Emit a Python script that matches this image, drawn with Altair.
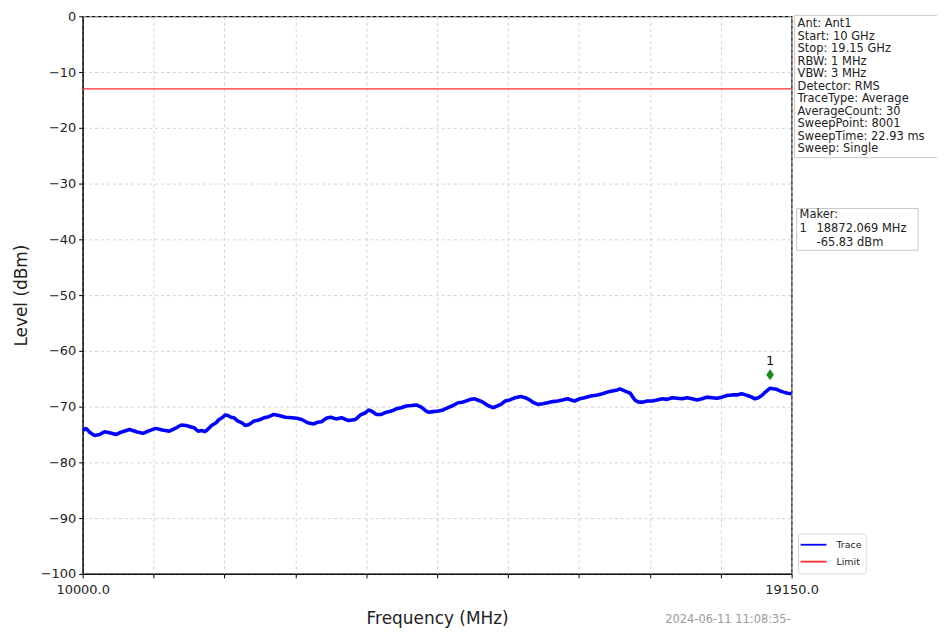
import altair as alt
import pandas as pd

# ---------------- data ----------------
freq_mhz = [
    10000, 10045, 10090, 10154, 10218, 10282, 10347, 10430, 10514, 10604,
    10694, 10778, 10861, 10944, 11028, 11118, 11208, 11272, 11337, 11388,
    11439, 11490, 11542, 11574, 11606, 11664, 11722, 11760, 11799, 11838,
    11876, 11914, 11953, 12004, 12056, 12101, 12146, 12210, 12275, 12339,
    12403, 12467, 12532, 12615, 12699, 12763, 12827, 12904, 12981, 13032,
    13084, 13142, 13200, 13270, 13341, 13431, 13521, 13585, 13650, 13688,
    13727, 13791, 13855, 13920, 13984, 14048, 14112, 14176, 14241, 14305,
    14369, 14414, 14459, 14523, 14588, 14652, 14716, 14780, 14845, 14896,
    14948, 15005, 15063, 15114, 15166, 15230, 15295, 15346, 15398, 15455,
    15513, 15583, 15654, 15712, 15770, 15821, 15873, 15937, 16001, 16065,
    16130, 16194, 16258, 16303, 16348, 16412, 16477, 16560, 16644, 16708,
    16772, 16836, 16901, 16933, 16965, 17016, 17068, 17100, 17132, 17177,
    17222, 17286, 17351, 17415, 17479, 17543, 17608, 17672, 17736, 17800,
    17865, 17929, 17993, 18057, 18122, 18186, 18250, 18314, 18379, 18443,
    18507, 18552, 18597, 18636, 18675, 18720, 18765, 18818, 18872, 18914,
    18957, 19002, 19047, 19098, 19150,
]
level_dbm = [
    -74.3, -73.9, -74.6, -75.2, -75.0, -74.5, -74.7, -75.0, -74.5, -74.1,
    -74.5, -74.8, -74.3, -73.9, -74.2, -74.4, -73.8, -73.3, -73.4, -73.6,
    -73.8, -74.4, -74.3, -74.5, -74.2, -73.4, -72.9, -72.3, -72.0, -71.5,
    -71.6, -71.9, -72.0, -72.6, -72.9, -73.4, -73.2, -72.6, -72.4, -72.0,
    -71.8, -71.4, -71.6, -71.9, -72.0, -72.1, -72.3, -72.9, -73.1, -72.8,
    -72.7, -72.1, -71.9, -72.2, -72.0, -72.5, -72.3, -71.5, -71.1, -70.6,
    -70.8, -71.4, -71.4, -71.0, -70.8, -70.4, -70.2, -69.9, -69.8, -69.7,
    -70.1, -70.6, -71.0, -70.9, -70.8, -70.6, -70.2, -69.8, -69.3, -69.2,
    -69.0, -68.7, -68.6, -68.9, -69.2, -69.8, -70.2, -69.9, -69.6, -69.0,
    -68.8, -68.4, -68.2, -68.4, -68.8, -69.3, -69.6, -69.5, -69.3, -69.1,
    -69.0, -68.8, -68.6, -68.8, -69.0, -68.6, -68.4, -68.1, -67.9, -67.7,
    -67.4, -67.2, -67.0, -66.8, -67.0, -67.3, -67.6, -68.3, -68.9, -69.2,
    -69.2, -69.0, -69.0, -68.8, -68.6, -68.7, -68.4, -68.5, -68.6, -68.4,
    -68.6, -68.8, -68.6, -68.3, -68.4, -68.5, -68.3, -68.0, -67.9, -67.9,
    -67.7, -67.9, -68.1, -68.3, -68.6, -68.4, -68.0, -67.3, -66.7, -66.8,
    -66.9, -67.2, -67.4, -67.6, -67.7,
]
limit_dbm = [-13]
marker_freq = [18872.069]
marker_level = [-65.83]
marker_ids = ["1"]

x_start, x_stop = 10000, 19150
x_tick_values = [10000, 10915, 11830, 12745, 13660, 14575, 15490, 16405, 17320, 18235, 19150]
y_tick_values = [-100, -90, -80, -70, -60, -50, -40, -30, -20, -10, 0]

info_lines = [
    "Ant: Ant1", "Start: 10 GHz", "Stop: 19.15 GHz", "RBW: 1 MHz", "VBW: 3 MHz",
    "Detector: RMS", "TraceType: Average", "AverageCount: 30", "SweepPoint: 8001",
    "SweepTime: 22.93 ms", "Sweep: Single",
]
legend_names = ["Trace", "Limit"]
legend_colors = ["#0000ff", "#ff2a2a"]
timestamp = "2024-06-11 11:08:35-"
x_title = "Frequency (MHz)"
y_title = "Level (dBm)"

FONT = "DejaVu Sans"

# ---------------- tables ----------------
trace_df = pd.DataFrame({"freq": freq_mhz, "level": level_dbm})
limit_df = pd.DataFrame({"level": limit_dbm})
marker_df = pd.DataFrame({"freq": marker_freq, "level": marker_level, "id": marker_ids})
legend_df = pd.DataFrame({"name": legend_names, "idx": list(range(len(legend_names)))})
one = pd.DataFrame({"k": [0]})

xscale = alt.Scale(domain=[x_start, x_stop], nice=False, zero=False)
yscale = alt.Scale(domain=[-100, 0], nice=False, zero=False)

x_axis = alt.Axis(
    values=x_tick_values,
    labelExpr=f"(datum.value == {x_start} || datum.value == {x_stop}) ? format(datum.value, '.1f') : ''",
    labelFlush=False, labelOverlap=False, labelBound=False,
    grid=True, gridDash=[3, 3], gridColor="#d2d2d2", gridWidth=1,
    tickColor="black", tickSize=4, domainColor="black",
    labelFont=FONT, labelFontSize=13, labelColor="#222222", labelPadding=6,
    title=x_title, titleFont=FONT, titleFontSize=17, titleFontWeight="normal",
    titleColor="#222222", titlePadding=14,
)
y_axis = alt.Axis(
    values=y_tick_values, format="d",
    grid=True, gridDash=[3, 3], gridColor="#d2d2d2", gridWidth=1,
    tickColor="black", tickSize=4, domainColor="black",
    labelFont=FONT, labelFontSize=13, labelColor="#222222", labelPadding=3,
    title=y_title, titleFont=FONT, titleFontSize=17, titleFontWeight="normal",
    titleColor="#222222", titlePadding=10,
)

trace = alt.Chart(trace_df).mark_line(color="#0000ff", strokeWidth=3.6, strokeJoin="bevel").encode(
    x=alt.X("freq:Q", scale=xscale, axis=x_axis),
    y=alt.Y("level:Q", scale=yscale, axis=y_axis),
)

limit = alt.Chart(limit_df).mark_rule(color="#ff2a2a", strokeWidth=1.3).encode(
    y=alt.Y("level:Q", scale=yscale)
)

diamond = "M0,-1L0.7,0L0,1L-0.7,0Z"
marker_pt = alt.Chart(marker_df).mark_point(
    shape=diamond, filled=True, color="#1a8a1a", opacity=1, size=121, yOffset=-8.6
).encode(x=alt.X("freq:Q", scale=xscale), y=alt.Y("level:Q", scale=yscale))
marker_txt = alt.Chart(marker_df).mark_text(
    font=FONT, fontSize=13, color="#111111", dy=-22.5
).encode(x=alt.X("freq:Q", scale=xscale), y=alt.Y("level:Q", scale=yscale), text="id:N")

# info panel
info_box = alt.Chart(one).mark_rect(fill="white", stroke="#c8c8c8", strokeWidth=1).encode(
    x=alt.value(715), x2=alt.value(860), y=alt.value(-1), y2=alt.value(142)
)
info_txt = alt.Chart(one).mark_text(
    align="left", baseline="top", font=FONT, fontSize=11.5, lineHeight=12.55, color="#222222"
).encode(x=alt.value(718), y=alt.value(2), text=alt.value(info_lines))

# marker panel
mk_box = alt.Chart(one).mark_rect(fill="white", stroke="#c8c8c8", strokeWidth=1).encode(
    x=alt.value(717), x2=alt.value(839), y=alt.value(193), y2=alt.value(235)
)
mk_t1 = alt.Chart(one).mark_text(align="left", baseline="middle", font=FONT, fontSize=11.5, color="#222222").encode(
    x=alt.value(720), y=alt.value(200), text=alt.value("Maker:"))
mk_t2 = alt.Chart(one).mark_text(align="left", baseline="middle", font=FONT, fontSize=11.5, color="#222222").encode(
    x=alt.value(720), y=alt.value(214), text=alt.value(marker_ids[0]))
mk_t3 = alt.Chart(one).mark_text(align="left", baseline="middle", font=FONT, fontSize=11.5, color="#222222").encode(
    x=alt.value(737), y=alt.value(214), text=alt.value(f"{marker_freq[0]:.3f} MHz"))
mk_t4 = alt.Chart(one).mark_text(align="left", baseline="middle", font=FONT, fontSize=11.5, color="#222222").encode(
    x=alt.value(737), y=alt.value(227.5), text=alt.value(f"{marker_level[0]:.2f} dBm"))

# legend
lg_box = alt.Chart(one).mark_rect(fill="white", stroke="#d8d8d8", strokeWidth=1, cornerRadius=2).encode(
    x=alt.value(719), x2=alt.value(787), y=alt.value(520), y2=alt.value(560)
)
color_scale = alt.Scale(domain=legend_names, range=legend_colors)
lg_lines = alt.Chart(legend_df).transform_calculate(ly="530.7 + 17 * datum.idx").mark_rule(strokeWidth=1.8).encode(
    x=alt.value(721), x2=alt.value(747), y=alt.Y("ly:Q", scale=None),
    color=alt.Color("name:N", scale=color_scale, legend=None),
)
lg_text = alt.Chart(legend_df).transform_calculate(ly="530.7 + 17 * datum.idx").mark_text(
    align="left", baseline="middle", font=FONT, fontSize=9.5, color="#222222"
).encode(x=alt.value(757), y=alt.Y("ly:Q", scale=None), text="name:N")

stamp = alt.Chart(one).mark_text(
    align="left", baseline="middle", font=FONT, fontSize=11.5, color="#9a9a9a"
).encode(x=alt.value(585), y=alt.value(606), text=alt.value(timestamp))

chart = alt.layer(
    limit, trace, marker_pt, marker_txt,
    info_box, info_txt, mk_box, mk_t1, mk_t2, mk_t3, mk_t4,
    lg_box, lg_lines, lg_text, stamp,
).resolve_scale(color="independent").properties(
    width=712, height=560,
    padding={"left": 75, "top": 7, "right": 146, "bottom": 54},
    autosize=alt.AutoSizeParams(type="none"),
    background="white",
).configure_view(stroke="black", strokeWidth=1.2)

chart.save("out.html", embed_options={"renderer": "svg", "actions": False})
